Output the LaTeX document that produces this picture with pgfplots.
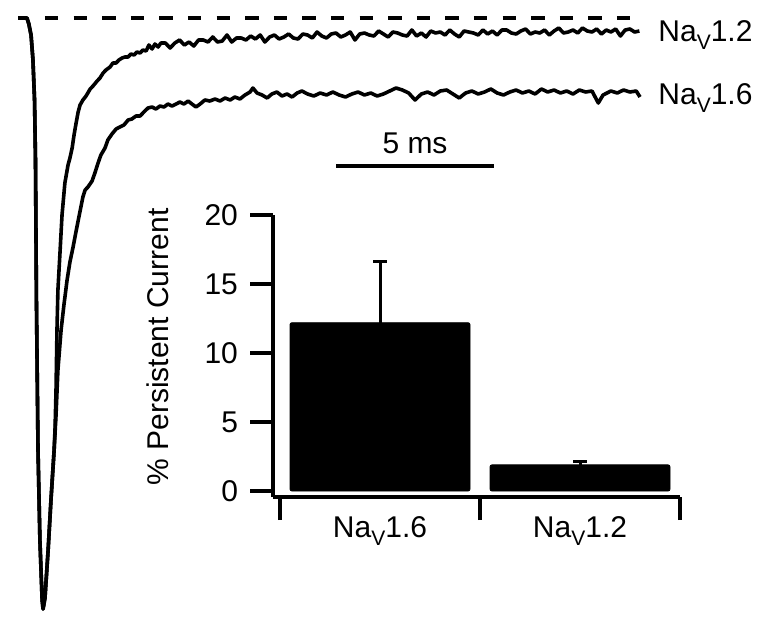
\documentclass[border=0pt]{standalone}
\usepackage{fontspec}
\setmainfont{Liberation Sans}
\usepackage{pgfplots}
\pgfplotsset{compat=1.18}

\newcommand{\Nav}[1]{Na\raisebox{-4.2pt}{\fontsize{10.5}{12}\selectfont V}#1}

% common rising/falling part of both currents (time in ms, current normalised to ~ -590 at peak)
\newcommand{\onset}{(-0.06,0) (0.22,0) (0.28,-6) (0.35,-17) (0.41,-42) (0.46,-82) (0.49,-142)
 (0.52,-282) (0.57,-432) (0.63,-522) (0.70,-582) (0.73,-591) (0.79,-580) (0.89,-532)
 (0.98,-482) (1.08,-432)}

\begin{document}
\begin{tikzpicture}[font=\fontsize{15}{18}\selectfont]
% ---- current traces ----
\begin{axis}[
    at={(0,0)}, anchor=south west,
    scale only axis, width=382pt, height=314.5pt,
    xmin=-0.633, xmax=23.544, ymin=-611, ymax=18,
    hide axis, clip=false,
]
\path (rel axis cs:0,0) rectangle (rel axis cs:1,1);

% baseline
\addplot[black, line width=1.7pt, dash pattern=on 6.7pt off 7.6pt] coordinates {(0.79,0) (19.49,0)};

% NaV1.2
\addplot[black, line width=1.8pt, line join=round] coordinates {
 \onset
 (1.11,-410) (1.14,-372) (1.17,-312) (1.20,-272) (1.27,-232) (1.33,-197) (1.42,-165)
 (1.52,-147) (1.58,-140) (1.65,-130) (1.71,-117) (1.77,-106) (1.84,-94) (1.90,-87)
 (1.99,-82) (2.09,-78) (2.22,-71) (2.31,-68) (2.44,-63) (2.53,-60) (2.63,-55) (2.72,-52)
 (2.85,-49) (2.94,-45) (3.04,-45) (3.13,-42) (3.23,-40) (3.32,-39) (3.42,-39) (3.51,-36)
 (3.61,-37) (3.70,-34) (3.80,-35) (3.89,-32) (3.99,-33) (4.08,-27) (4.18,-31) (4.27,-26)
 (4.37,-29) (4.46,-25) (4.60,-25) (4.75,-30) (4.90,-25) (5.05,-22) (5.20,-27) (5.35,-24)
 (5.50,-28) (5.65,-22) (5.80,-22) (5.95,-24) (6.10,-19) (6.25,-24) (6.40,-23) (6.55,-17)
 (6.70,-24) (6.85,-20) (7.00,-20) (7.15,-22) (7.30,-18) (7.45,-21) (7.60,-17) (7.75,-24)
 (7.90,-19) (8.05,-17) (8.20,-21) (8.35,-19) (8.50,-16) (8.65,-20) (8.80,-21) (8.95,-16)
 (9.10,-17) (9.25,-20) (9.40,-14) (9.55,-18) (9.70,-20) (9.85,-16) (10.00,-15) (10.15,-19)
 (10.30,-17) (10.45,-14) (10.60,-22) (10.75,-16) (10.90,-15) (11.05,-17) (11.20,-18)
 (11.35,-13) (11.50,-16) (11.65,-19) (11.80,-14) (11.95,-15) (12.10,-17) (12.25,-18)
 (12.40,-12) (12.55,-18) (12.70,-15) (12.85,-19) (13.00,-13) (13.15,-15) (13.30,-14)
 (13.45,-17) (13.60,-12) (13.75,-16) (13.90,-19) (14.05,-13) (14.20,-14) (14.35,-15)
 (14.50,-17) (14.65,-12) (14.80,-16) (14.95,-13) (15.10,-17) (15.25,-12) (15.40,-12)
 (15.55,-15) (15.70,-16) (15.85,-13) (16.00,-11) (16.15,-16) (16.30,-14) (16.45,-15)
 (16.60,-12) (16.75,-17) (16.90,-13) (17.05,-10) (17.20,-15) (17.35,-14) (17.50,-12)
 (17.65,-15) (17.80,-10) (17.95,-13) (18.10,-14) (18.25,-11) (18.40,-16) (18.55,-12)
 (18.70,-14) (18.85,-11) (19.00,-18) (19.15,-12) (19.30,-11) (19.45,-14) (19.60,-13)
};

% NaV1.6
\addplot[black, line width=1.8pt, line join=round] coordinates {
 \onset
 (1.14,-397) (1.20,-352) (1.30,-312) (1.39,-287) (1.49,-262) (1.58,-244) (1.68,-229)
 (1.77,-214) (1.87,-198) (1.99,-179) (2.06,-172) (2.15,-169) (2.28,-163) (2.37,-155)
 (2.47,-145) (2.56,-137) (2.69,-130) (2.78,-122) (2.91,-116) (3.04,-111) (3.16,-109)
 (3.29,-107) (3.42,-102) (3.54,-101) (3.67,-98) (3.80,-98) (3.92,-94) (4.05,-90)
 (4.18,-89) (4.30,-91) (4.43,-88) (4.56,-89) (4.68,-86) (4.81,-88) (4.94,-86) (5.06,-84)
 (5.19,-86) (5.32,-83) (5.44,-86) (5.57,-89) (5.70,-86) (5.85,-82) (6.01,-83) (6.17,-81)
 (6.33,-83) (6.49,-80) (6.65,-82) (6.80,-79) (6.96,-81) (7.12,-77) (7.28,-74) (7.37,-70)
 (7.50,-75) (7.66,-77) (7.82,-80) (7.97,-76) (8.13,-74) (8.29,-78) (8.45,-76) (8.61,-79)
 (8.77,-75) (8.92,-73) (9.1,-76) (9.3,-78) (9.5,-75) (9.7,-77) (9.9,-74) (10.1,-77)
 (10.3,-79) (10.5,-76) (10.7,-74) (10.9,-77) (11.1,-75) (11.3,-78) (11.5,-76) (11.7,-73)
 (11.9,-70) (12.1,-72) (12.3,-75) (12.5,-82) (12.7,-76) (12.9,-74) (13.1,-77) (13.3,-73)
 (13.5,-72) (13.7,-76) (13.9,-80) (14.1,-75) (14.3,-73) (14.5,-76) (14.7,-74) (14.9,-71)
 (15.1,-75) (15.3,-77) (15.5,-74) (15.7,-72) (15.9,-75) (16.1,-73) (16.3,-76) (16.5,-71)
 (16.7,-74) (16.9,-72) (17.1,-75) (17.3,-73) (17.5,-76) (17.7,-72) (17.9,-74) (18.1,-73)
 (18.3,-85) (18.45,-77) (18.7,-73) (18.9,-75) (19.1,-72) (19.3,-74) (19.5,-73) (19.62,-79)
};

% scale bar
\draw[line width=1.7pt] (axis cs:10,-148) -- (axis cs:15,-148);
\node[anchor=base] at (axis cs:12.5,-135) {5 ms};

\node[anchor=base west, inner sep=0pt] at (axis cs:20.19,-23) {\Nav{1.2}};
\node[anchor=base west, inner sep=0pt] at (axis cs:20.19,-86) {\Nav{1.6}};
\end{axis}

% ---- inset bar chart ----
\begin{axis}[
    at={(136.5pt,66pt)}, anchor=south west,
    scale only axis, width=203.5pt, height=141pt,
    axis lines*=left,
    axis line style={line width=1.6pt},
    xmin=-0.535, xmax=1.5, ymin=-0.43, ymax=20,
    ytick={0,5,10,15,20},
    xtick={-0.5,0.5,1.5}, xticklabels={},
    extra x ticks={0,1},
    extra x tick labels={\Nav{1.6},\Nav{1.2}},
    extra x tick style={major tick length=0pt},
    tick align=outside, major tick length=11.5pt,
    tick style={line width=1.6pt, black},
    /pgf/number format/assume math mode=true,
    yticklabel style={xshift=-2.5pt},
    xticklabel style={yshift=-6pt},
    ylabel={\% Persistent Current},
    ylabel style={at={(axis description cs:-0.283,0.532)}, anchor=center},
    clip=false,
]
\addplot[ybar, bar width=0.9, fill=black, draw=black, rounded corners=1pt,
    error bars/.cd, y dir=plus, y explicit,
    error bar style={line width=1.5pt, black},
    error mark options={rotate=90, mark size=3.5pt, line width=1.5pt, black}]
 coordinates {(0,12.2) +- (0,4.4) (1,1.9) +- (0,0.25)};
\end{axis}
\end{tikzpicture}
\end{document}
